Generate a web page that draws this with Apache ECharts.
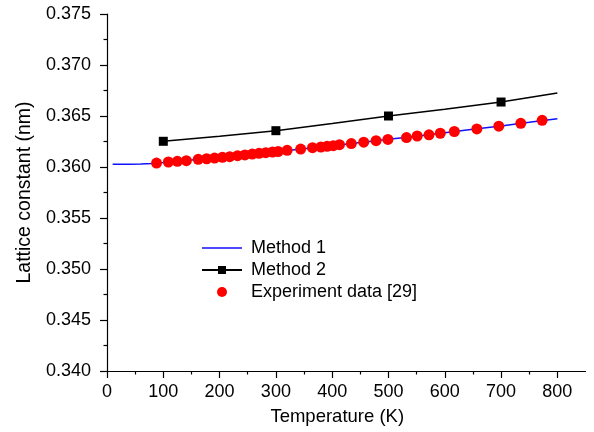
<!DOCTYPE html>
<html>
<head>
<meta charset="utf-8">
<script src="https://cdn.jsdelivr.net/npm/echarts@6/dist/echarts.min.js"></script>
<style>
  html, body { margin: 0; padding: 0; background: #fff; }
  #chart { width: 594px; height: 432px; }
</style>
</head>
<body>
<div id="chart"></div>
<script>
// Measured lattice constants (nm) versus temperature (K)
var expT = [88, 109, 125, 141, 162, 177, 191, 205, 218, 232, 245, 258, 270, 282, 294, 304,
            320, 344, 365, 380, 391, 402, 413, 434, 456, 478, 499, 532, 551, 572, 592, 617,
            657, 696, 735, 773];
var expA = [0.36039, 0.36049, 0.36056, 0.36062, 0.36075, 0.36081, 0.36088, 0.36095, 0.36101,
            0.36111, 0.36118, 0.36127, 0.36134, 0.36140, 0.36147, 0.36152, 0.36164, 0.36176,
            0.36189, 0.36196, 0.36203, 0.36209, 0.36219, 0.36230, 0.36243, 0.36258, 0.36270,
            0.36289, 0.36304, 0.36316, 0.36331, 0.36348, 0.36373, 0.36400, 0.36428, 0.36458];

// Method 1 curve
var m1T = [10, 20, 40, 60, 80, 100, 150, 200, 250, 300, 350, 400, 450, 500, 550, 600, 650, 700, 750, 800];
var m1A = [0.36026, 0.36026, 0.36027, 0.36030, 0.36035, 0.36043, 0.36068, 0.36093, 0.36121,
           0.36150, 0.36180, 0.36209, 0.36240, 0.36271, 0.36302, 0.36336, 0.36369, 0.36403,
           0.36438, 0.36474];

// Method 2 curve; square markers only at the computed temperatures
var m2T = [100, 200, 300, 400, 500, 600, 700, 800];
var m2A = [0.36252, 0.36302, 0.36356, 0.36426, 0.36500, 0.36567, 0.36637, 0.36726];
var m2Marked = [100, 300, 500, 700];

// Axis ticks
var xMajor = [0, 100, 200, 300, 400, 500, 600, 700, 800];
var xMinor = [50, 150, 250, 350, 450, 550, 650, 750];

var FONT = 'Liberation Sans, Arial, Helvetica, sans-serif';

function pairs(xs, ys) {
  return xs.map(function (x, i) { return [x, ys[i]]; });
}

var m2Data = m2T.map(function (t, i) {
  var item = { value: [t, m2A[i]] };
  if (m2Marked.indexOf(t) < 0) item.symbol = 'none';
  return item;
});

var chart = echarts.init(document.getElementById('chart'), null, { renderer: 'canvas' });

chart.setOption({
  animation: false,
  backgroundColor: '#ffffff',
  grid: {
    left: 107, top: 14, right: 8.5, bottom: 61,
    containLabel: false,
    outerBoundsMode: 'none'
  },
  legend: {
    orient: 'vertical',
    left: 201,
    top: 239,
    padding: 0,
    itemWidth: 40,
    itemHeight: 10,
    itemGap: 4,
    textStyle: { fontFamily: FONT, fontSize: 18, color: '#000', padding: [0, 0, 0, 4] },
    data: [
      { name: 'Method 1', icon: 'path://M0,0H40V1.5H0Z', itemStyle: { borderWidth: 0 } },
      { name: 'Method 2' },
      { name: 'Experiment data [29]' }
    ]
  },
  xAxis: [
    {
      type: 'value',
      min: 0, max: 850, interval: 100,
      position: 'bottom',
      name: 'Temperature (K)',
      nameLocation: 'middle',
      nameGap: 36,
      nameTextStyle: { fontFamily: FONT, fontSize: 18.5, color: '#000', padding: [0, 18, 0, 0] },
      axisLine: { show: true, onZero: false, lineStyle: { color: '#000', width: 1.2 } },
      axisTick: { show: true, inside: false, length: 7, customValues: xMajor, lineStyle: { color: '#000', width: 1.2 } },
      axisLabel: { fontFamily: FONT, fontSize: 18, color: '#000', margin: 12, customValues: xMajor },
      splitLine: { show: false }
    },
    {
      type: 'value',
      min: 0, max: 850,
      position: 'bottom',
      axisLine: { show: false, onZero: false },
      axisTick: { show: true, inside: false, length: 3.5, customValues: xMinor, lineStyle: { color: '#000', width: 1.2 } },
      axisLabel: { show: false },
      splitLine: { show: false }
    }
  ],
  yAxis: {
    type: 'value',
    min: 0.34, max: 0.375, interval: 0.005,
    name: 'Lattice constant (nm)',
    nameLocation: 'middle',
    nameGap: 72,
    nameRotate: 90,
    nameTextStyle: { fontFamily: FONT, fontSize: 19.5, color: '#000' },
    axisLine: { show: true, onZero: false, lineStyle: { color: '#000', width: 1.2 } },
    axisTick: { show: true, inside: false, length: 7, lineStyle: { color: '#000', width: 1.2 } },
    minorTick: { show: true, splitNumber: 2, length: 3.5, lineStyle: { color: '#000', width: 1.2 } },
    axisLabel: {
      fontFamily: FONT, fontSize: 18, color: '#000', margin: 16,
      formatter: function (v) { return v.toFixed(3); }
    },
    splitLine: { show: false },
    minorSplitLine: { show: false }
  },
  series: [
    {
      name: 'Method 1',
      type: 'line',
      data: pairs(m1T, m1A),
      symbol: 'none',
      smooth: false,
      color: '#1010ff',
      lineStyle: { color: '#1010ff', width: 1.5 },
      z: 2
    },
    {
      name: 'Method 2',
      type: 'line',
      data: m2Data,
      symbol: 'rect',
      symbolSize: 9,
      showSymbol: true,
      color: '#000',
      lineStyle: { color: '#000', width: 1.5 },
      itemStyle: { color: '#000', borderWidth: 0 },
      z: 3
    },
    {
      name: 'Experiment data [29]',
      type: 'scatter',
      data: pairs(expT, expA),
      symbol: 'circle',
      symbolSize: 11,
      color: '#ff0000',
      itemStyle: { color: '#ff0000', borderWidth: 0, opacity: 1 },
      z: 4
    }
  ]
});
</script>
</body>
</html>
